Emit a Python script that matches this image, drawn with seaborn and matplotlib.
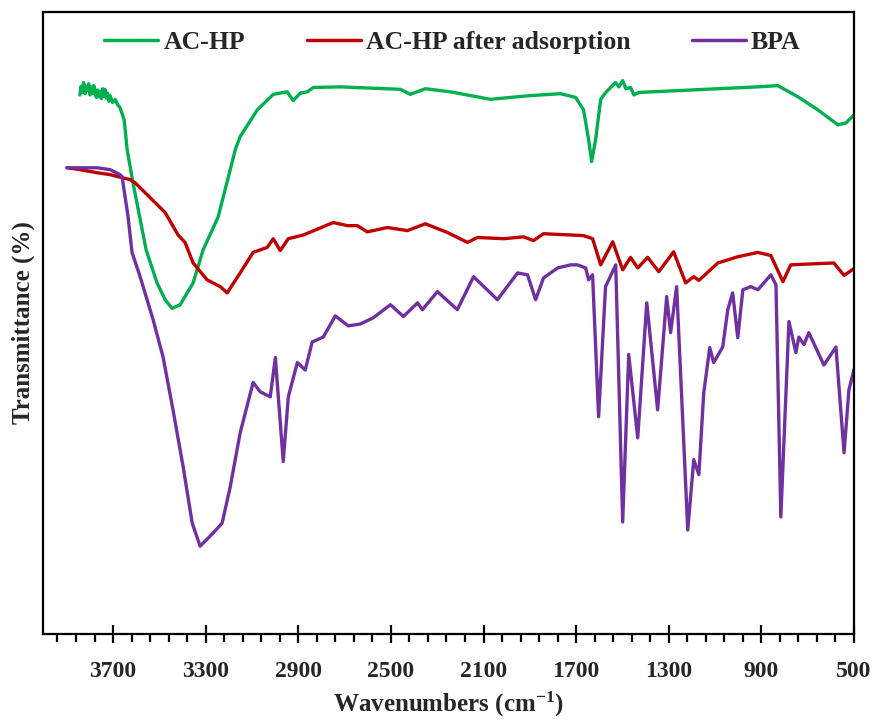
import numpy as np
import pandas as pd
import matplotlib
matplotlib.use("Agg")
import matplotlib.pyplot as plt
from matplotlib.ticker import FixedLocator, NullLocator
import seaborn as sns

# FTIR spectra: wavenumber (cm-1) and transmittance (arbitrary %, offset traces)
wn_achp = [3843, 3838, 3832, 3827, 3821, 3816, 3810, 3805, 3799, 3794, 3788, 3783,
           3778, 3772, 3767, 3761, 3756, 3750, 3745, 3740, 3735, 3729, 3724, 3718,
           3713, 3702, 3691, 3680, 3670, 3652, 3639, 3614, 3557, 3510, 3475, 3445,
           3410, 3354, 3311, 3246, 3172, 3151, 3077, 3008, 2948, 2922, 2891, 2861,
           2835, 2718, 2459, 2416, 2351, 2243, 2070, 1897, 1767, 1702, 1668, 1646,
           1633, 1616, 1594, 1572, 1551, 1530, 1515, 1499, 1485, 1465, 1450, 1430,
           915, 829, 742, 656, 569, 535, 500]
t_achp = [86.6, 88.0, 87.0, 88.6, 86.8, 88.0, 87.3, 88.4, 86.6, 87.9, 86.8, 88.1,
          87.0, 86.2, 87.4, 86.3, 87.2, 86.0, 87.6, 86.4, 87.5, 86.1, 86.9, 85.6,
          86.5, 85.4, 85.9, 85.0, 84.6, 82.6, 77.8, 72.5, 61.7, 56.4, 53.7, 52.3,
          52.9, 56.4, 61.7, 67.0, 77.8, 79.9, 84.2, 86.7, 87.1, 85.7, 86.9, 87.1,
          87.8, 87.9, 87.5, 86.7, 87.6, 87.1, 85.9, 86.5, 86.8, 86.2, 84.2, 79.4,
          75.9, 79.4, 85.9, 87.0, 87.8, 88.6, 87.9, 88.9, 87.6, 87.8, 86.6, 87.0,
          87.9, 88.1, 86.3, 84.2, 81.8, 82.1, 83.4]

wn_after = [3899, 3843, 3769, 3713, 3661, 3626, 3605, 3540, 3475, 3419, 3389, 3354,
            3294, 3237, 3207, 3151, 3095, 3034, 3008, 2978, 2943, 2878, 2749, 2688,
            2645, 2602, 2515, 2429, 2351, 2256, 2169, 2126, 2014, 1927, 1884, 1841,
            1724, 1668, 1629, 1594, 1542, 1499, 1465, 1434, 1391, 1343, 1279, 1227,
            1192, 1170, 1088, 1002, 915, 859, 807, 773, 656, 587, 543, 500]
t_after = [74.9, 74.6, 74.1, 73.8, 73.3, 73.0, 72.5, 70.1, 67.7, 64.1, 62.9, 59.6,
           56.9, 55.8, 54.8, 58.0, 61.3, 62.1, 63.5, 61.6, 63.5, 64.1, 66.1, 65.6,
           65.6, 64.6, 65.3, 64.8, 65.9, 64.5, 62.9, 63.7, 63.5, 63.8, 63.2, 64.3,
           64.1, 64.0, 63.5, 59.3, 63.0, 58.5, 60.5, 58.8, 60.5, 58.2, 61.4, 56.4,
           57.4, 56.8, 59.6, 60.6, 61.3, 60.8, 56.6, 59.3, 59.5, 59.6, 57.6, 58.7]

wn_bpa = [3899, 3769, 3713, 3670, 3661, 3635, 3618, 3583, 3527, 3484, 3441, 3397,
          3358, 3324, 3268, 3229, 3194, 3151, 3095, 3064, 3021, 2999, 2965, 2943,
          2904, 2870, 2840, 2792, 2740, 2684, 2632, 2576, 2502, 2446, 2385, 2364,
          2299, 2213, 2143, 2040, 1953, 1910, 1875, 1841, 1780, 1724, 1694, 1659,
          1646, 1629, 1603, 1573, 1529, 1499, 1473, 1434, 1395, 1348, 1309, 1292,
          1266, 1218, 1192, 1170, 1149, 1123, 1106, 1067, 1045, 1024, 1002, 980,
          946, 915, 859, 837, 816, 781, 751, 738, 716, 695, 630, 578, 543, 522, 500]
t_bpa = [74.9, 74.9, 74.6, 73.8, 73.5, 67.0, 61.3, 57.4, 50.5, 44.5, 36.0, 26.8,
         17.8, 14.1, 16.2, 17.8, 23.6, 32.3, 40.4, 38.9, 38.1, 44.4, 27.7, 38.1,
         43.6, 42.4, 46.9, 47.7, 51.1, 49.5, 49.8, 50.8, 52.9, 51.0, 53.2, 52.1,
         55.0, 52.1, 57.4, 53.7, 58.0, 57.7, 53.7, 57.2, 58.8, 59.3, 59.3, 58.8,
         56.9, 57.7, 34.9, 55.8, 59.3, 18.0, 44.9, 31.5, 53.2, 36.0, 54.2, 48.4,
         55.8, 16.7, 28.0, 25.6, 38.7, 46.0, 43.6, 46.1, 52.1, 54.8, 47.6, 55.3,
         55.8, 55.3, 57.7, 56.1, 18.8, 50.2, 45.2, 47.7, 46.5, 48.4, 43.2, 46.1,
         29.1, 39.2, 42.5]

labels = ["AC-HP", "AC-HP after adsorption", "BPA"]
colors = ["#00B050", "#C00000", "#7030A0"]
major_ticks = [3700, 3300, 2900, 2500, 2100, 1700, 1300, 900, 500]

df = pd.concat([
    pd.DataFrame({"wn": wn_achp, "T": t_achp, "sample": labels[0]}),
    pd.DataFrame({"wn": wn_after, "T": t_after, "sample": labels[1]}),
    pd.DataFrame({"wn": wn_bpa, "T": t_bpa, "sample": labels[2]}),
], ignore_index=True)

sns.set_theme(style="white")
plt.rcParams["font.family"] = ["Liberation Serif", "DejaVu Serif"]
plt.rcParams["font.weight"] = "bold"
plt.rcParams["mathtext.fontset"] = "custom"
plt.rcParams["mathtext.rm"] = "Liberation Serif:bold"
plt.rcParams["mathtext.bf"] = "Liberation Serif:bold"
plt.rcParams["mathtext.it"] = "Liberation Serif:bold"

fig = plt.figure(figsize=(8.75, 7.22), dpi=100)
ax = fig.add_axes([0.049, 0.122, 0.927, 0.862])

sns.lineplot(data=df, x="wn", y="T", hue="sample", hue_order=labels,
             palette=dict(zip(labels, colors)), estimator=None, sort=False,
             linewidth=2.4, ax=ax)

ax.set_xlim(4003, 500)
ax.set_ylim(0, 100)

ax.xaxis.set_major_locator(FixedLocator(major_ticks))
ax.xaxis.set_minor_locator(FixedLocator(np.arange(500, 4001, 80)))
ax.yaxis.set_major_locator(NullLocator())
ax.tick_params(axis="x", which="major", direction="inout", length=13, width=1.6,
               color="black", labelsize=17, pad=13, bottom=True)
ax.tick_params(axis="x", which="minor", direction="out", length=6, width=1.6,
               color="black", bottom=True)
for lab in ax.get_xticklabels():
    lab.set_fontweight("bold")

for side in ["left", "right", "top", "bottom"]:
    ax.spines[side].set_visible(True)
    ax.spines[side].set_color("black")
    ax.spines[side].set_linewidth(1.6)

ax.set_xlabel(r"Wavenumbers (cm$^{-1}$)", fontsize=18, fontweight="bold", labelpad=6)
ax.set_ylabel("Transmittance (%)", fontsize=18, fontweight="bold", labelpad=6)

leg = ax.legend(loc="center", bbox_to_anchor=(0.505, 0.95), ncol=3, frameon=False,
                handlelength=2.1, handletextpad=0.2, columnspacing=2.4,
                prop={"weight": "bold", "size": 18.5})
for line in leg.get_lines():
    line.set_linewidth(2.5)

fig.savefig("out.png", dpi=100, facecolor="white")
